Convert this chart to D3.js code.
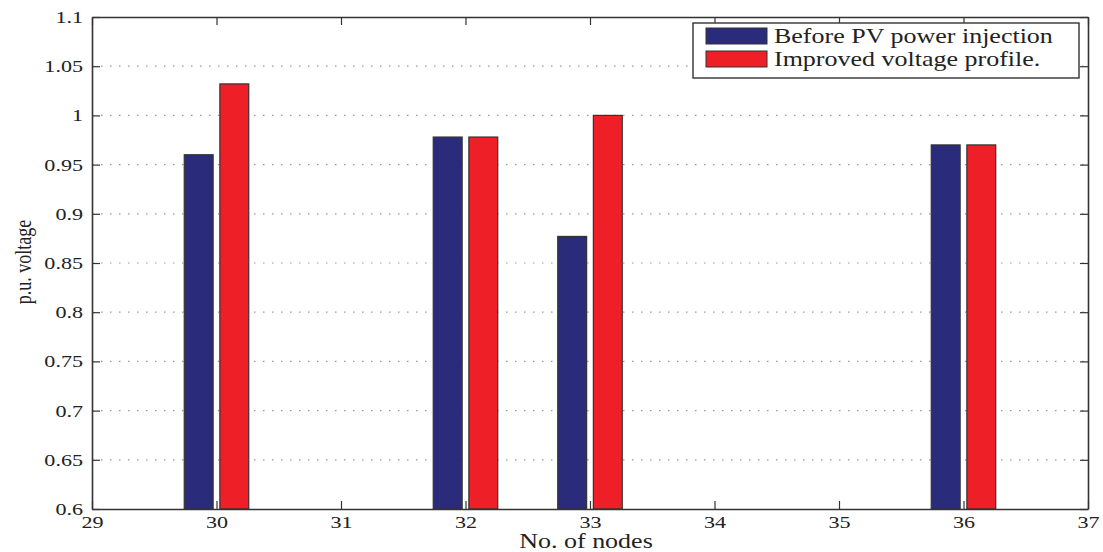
<!DOCTYPE html>
<html>
<head>
<meta charset="utf-8">
<script src="https://cdn.jsdelivr.net/npm/d3@7"></script>
<style>
  body { margin: 0; background: #fff; }
  svg text { font-family: "Liberation Serif", "DejaVu Serif", serif; fill: #222; }
</style>
</head>
<body>
<svg id="chart"></svg>
<script>
// node numbers and p.u. voltages
const nodes = [30, 32, 33, 36];
const beforePV = [0.96, 0.978, 0.877, 0.97];
const improved = [1.032, 0.978, 1.0, 0.97];
const seriesNames = ["Before PV power injection", "Improved voltage profile."];
const xTicks = [29, 30, 31, 32, 33, 34, 35, 36, 37];
const yTicks = [0.6, 0.65, 0.7, 0.75, 0.8, 0.85, 0.9, 0.95, 1, 1.05, 1.1];

const width = 1103, height = 552;
const margin = { left: 92, right: 15, top: 17, bottom: 43 };
const palette = ["#2a2b7b", "#ee1f26"];
const SX = 1.3; // the original image is stretched horizontally

const svg = d3.select("#chart").attr("width", width).attr("height", height);
const innerW = width - margin.left - margin.right;
const innerH = height - margin.top - margin.bottom;

const x = d3.scaleLinear().domain([29, 37]).range([0, innerW]);
const y = d3.scaleLinear().domain([0.6, 1.1]).range([innerH, 0]);

const g = svg.append("g").attr("transform", `translate(${margin.left},${margin.top})`);

// dotted horizontal grid
g.append("g")
  .selectAll("line")
  .data(yTicks.slice(1, -1))
  .join("line")
  .attr("x1", 0).attr("x2", innerW)
  .attr("y1", (d) => y(d)).attr("y2", (d) => y(d))
  .attr("stroke", "#999")
  .attr("stroke-width", 1.2)
  .attr("stroke-dasharray", "1.5,7.5");

// bars
const offset = 0.143, barW = 0.232;
const series = [beforePV, improved];
series.forEach((vals, si) => {
  g.append("g")
    .selectAll("rect")
    .data(nodes.map((n, i) => ({ n, v: vals[i] })))
    .join("rect")
    .attr("x", (d) => x(d.n + (si === 0 ? -offset : offset) - barW / 2))
    .attr("width", x(29 + barW) - x(29))
    .attr("y", (d) => y(d.v))
    .attr("height", (d) => innerH - y(d.v))
    .attr("fill", palette[si])
    .attr("stroke", "#333")
    .attr("stroke-width", 1.2);
});

// axes with inward ticks on all four sides
const axisStyle = (a) => {
  a.select(".domain").attr("stroke", "#333").attr("stroke-width", 1.6);
  a.selectAll(".tick line").attr("stroke", "#333").attr("stroke-width", 1.2);
};
const left = g.append("g")
  .call(d3.axisLeft(y).tickValues(yTicks).tickSize(-8).tickPadding(0).tickSizeOuter(0)
    .tickFormat((d) => d3.format("")(+d.toFixed(2))))
  .call(axisStyle);
left.selectAll(".tick text")
  .attr("x", -9 / SX)
  .attr("transform", `scale(${SX},1)`)
  .style("font-size", "17px");

const bottom = g.append("g")
  .attr("transform", `translate(0,${innerH})`)
  .call(d3.axisBottom(x).tickValues(xTicks).tickSize(-8).tickPadding(0).tickSizeOuter(0))
  .call(axisStyle);
bottom.selectAll(".tick text")
  .attr("y", 7)
  .attr("transform", `scale(${SX},1)`)
  .style("font-size", "17px");

g.append("g")
  .call(d3.axisTop(x).tickValues(xTicks).tickSize(-8).tickFormat("").tickSizeOuter(0))
  .call(axisStyle);
g.append("g")
  .attr("transform", `translate(${innerW},0)`)
  .call(d3.axisRight(y).tickValues(yTicks).tickSize(-8).tickFormat("").tickSizeOuter(0))
  .call(axisStyle);

// axis titles
svg.append("text")
  .attr("transform", `translate(${margin.left + innerW / 2 - 4},548) scale(${SX},1)`)
  .attr("text-anchor", "middle")
  .style("font-size", "20px")
  .text("No. of nodes");
svg.append("text")
  .attr("transform", `translate(31,262) scale(${SX},1) rotate(-90)`)
  .attr("text-anchor", "middle")
  .style("font-size", "18px")
  .text("p.u. voltage");

// legend
const legend = svg.append("g").attr("transform", "translate(693,23)");
legend.append("rect")
  .attr("width", 386).attr("height", 55)
  .attr("fill", "#fff").attr("stroke", "#333").attr("stroke-width", 1.4);
const item = legend.selectAll("g.item")
  .data(seriesNames)
  .join("g")
  .attr("transform", (_, i) => `translate(13,${5 + i * 23})`);
item.append("rect")
  .attr("width", 61).attr("height", 16)
  .attr("fill", (_, i) => palette[i])
  .attr("stroke", "#333").attr("stroke-width", 1);
item.append("text")
  .attr("transform", `translate(68,15) scale(${SX},1)`)
  .style("font-size", "20px")
  .text((d) => d);
</script>
</body>
</html>
